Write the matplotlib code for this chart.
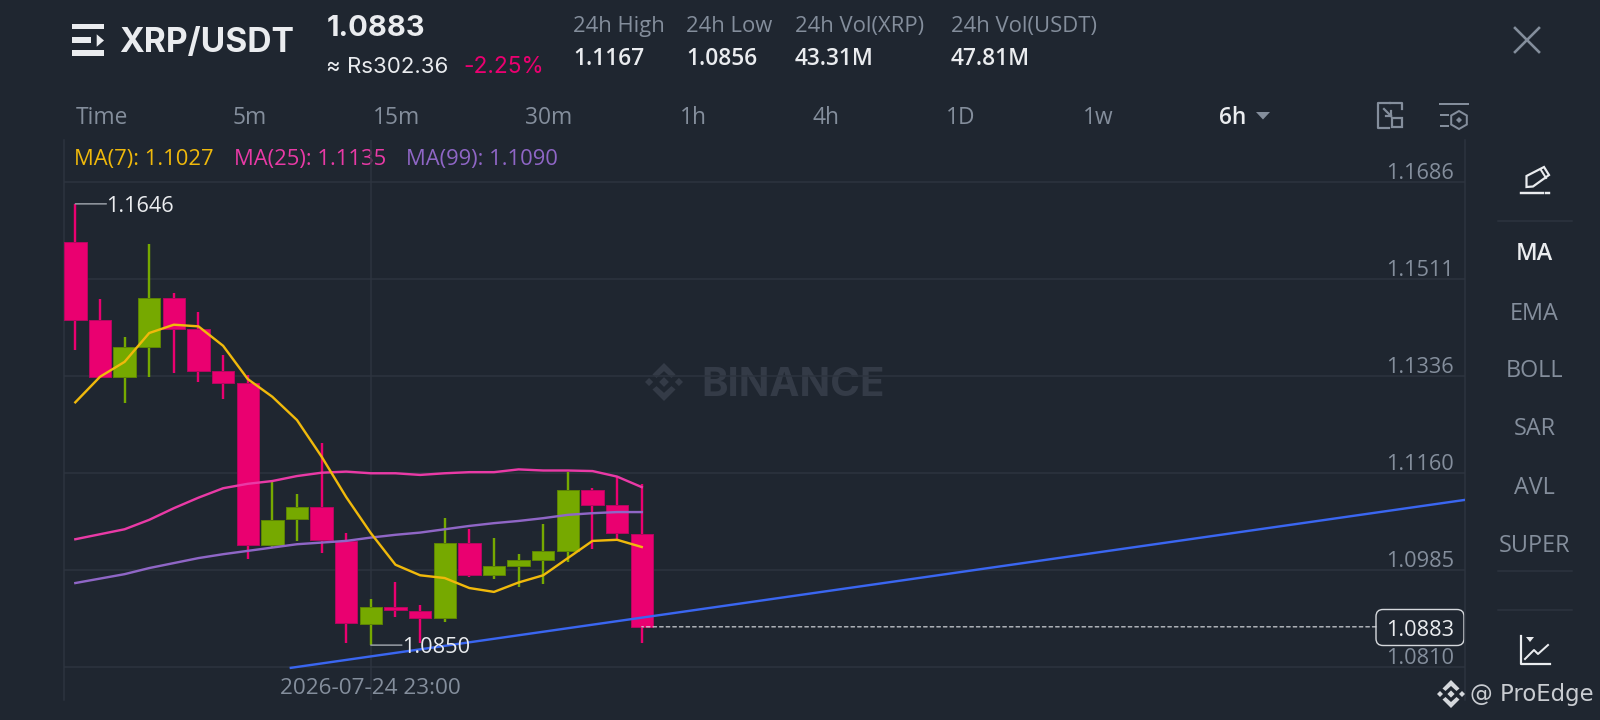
import matplotlib
matplotlib.use("Agg")
import matplotlib.pyplot as plt
from matplotlib.patches import Polygon, Rectangle, FancyBboxPatch, RegularPolygon
from matplotlib.transforms import blended_transform_factory

# ---------- data ----------
highs = [1.1646, 1.1475, 1.1405, 1.1574, 1.1486, 1.1451, 1.1373, 1.1337, 1.1144, 1.1123, 1.1214, 1.1052,
         1.0934, 1.0963, 1.0922, 1.1079, 1.1059, 1.1044, 1.1014, 1.1068, 1.1163, 1.1133, 1.1154, 1.1140]
opens = [1.1577, 1.1436, 1.1334, 1.1387, 1.1476, 1.1421, 1.1344, 1.1323, 1.1031, 1.1077, 1.1100, 1.1038,
         1.0889, 1.0918, 1.0911, 1.0899, 1.1035, 1.0976, 1.0993, 1.1003, 1.1020, 1.1130, 1.1102, 1.1050]
closes = [1.1436, 1.1334, 1.1387, 1.1476, 1.1420, 1.1344, 1.1323, 1.1031, 1.1076, 1.1100, 1.1039, 1.0890,
          1.0918, 1.0913, 1.0899, 1.1034, 1.0976, 1.0993, 1.1004, 1.1019, 1.1130, 1.1103, 1.1052, 1.0883]
lows = [1.1382, 1.1334, 1.1287, 1.1333, 1.1341, 1.1325, 1.1294, 1.1005, 1.1026, 1.1037, 1.1016, 1.0853,
        1.0850, 1.0901, 1.0854, 1.0891, 1.0972, 1.0970, 1.0954, 1.0960, 1.1000, 1.1024, 1.1041, 1.0854]
ma7 = [1.1288, 1.1334, 1.1361, 1.1413, 1.1428, 1.1425, 1.1390, 1.1330, 1.1298, 1.1256, 1.1190, 1.1117,
       1.1052, 1.0995, 1.0976, 1.0971, 1.0953, 1.0946, 1.0963, 1.0976, 1.1007, 1.1038, 1.1040, 1.1027]
ma25 = [1.1041, 1.1050, 1.1059, 1.1076, 1.1097, 1.1116, 1.1133, 1.1141, 1.1146, 1.1155, 1.1161, 1.1163,
        1.1160, 1.1160, 1.1157, 1.1160, 1.1162, 1.1162, 1.1167, 1.1165, 1.1165, 1.1164, 1.1154, 1.1135]
ma99 = [1.0962, 1.0970, 1.0978, 1.0989, 1.0998, 1.1007, 1.1014, 1.1020, 1.1026, 1.1032, 1.1035, 1.1038,
        1.1044, 1.1049, 1.1053, 1.1059, 1.1065, 1.1070, 1.1074, 1.1079, 1.1085, 1.1088, 1.1090, 1.1090]
candle_index = list(range(len(highs)))
trend_index = [8.75, 56.43]
trend_price = [1.0809, 1.1112]
price_levels = [1.1686, 1.1511, 1.1336, 1.1160, 1.0985, 1.0810]
last_price = 1.0883
high_mark = (0, 1.1646)
low_mark = (12, 1.0850)
time_tick_index = 12
time_tick_label = "2026-07-24 23:00"
tabs = ["Time", "5m", "15m", "30m", "1h", "4h", "1D", "1w"]
indicators = ["EMA", "BOLL", "SAR", "AVL", "SUPER"]
stat_names = ["24h High", "24h Low", "24h Vol(XRP)", "24h Vol(USDT)"]
stat_values = ["1.1167", "1.0856", "43.31M", "47.81M"]

# ---------- style ----------
BG = "#1f2630"; GRID = "#2d343f"; GRAY = "#848e9c"; WHITE = "#eaecef"
RED = "#ea0070"; REDE = "#b3075f"; GREEN = "#76a900"; GREENE = "#5c8205"
YEL = "#f0b90b"; PINK = "#e93aa6"; PURP = "#8f66c6"; BLUE = "#3a66f0"
NUM = "Open Sans"; HEAD = "Inter"
px = 0.72

fig = plt.figure(figsize=(16, 7.2), dpi=100, facecolor=BG)
ui = fig.add_axes([0, 0, 1, 1], zorder=1)
ui.set_xlim(0, 1600); ui.set_ylim(720, 0); ui.axis("off")

# main chart axes: 64..1465 px wide, 140..700 px high
L, R, T, B = 64.0, 1465.0, 140.0, 700.0
ax = fig.add_axes([L/1600, 1-B/720, (R-L)/1600, (B-T)/720], zorder=2)
ax.set_facecolor("none")
ax.set_xlim(-0.46, 56.43)
ax.set_ylim(1.07510, 1.17612)
ax.set_xticks([]); ax.set_yticks([])
for s in ("top", "bottom"):
    ax.spines[s].set_visible(False)
for s in ("left", "right"):
    ax.spines[s].set_color(GRID); ax.spines[s].set_linewidth(1.5*px)

rowT = blended_transform_factory(ax.transAxes, ax.transData)

# ---------- grid ----------
for lv in price_levels:
    ax.axhline(lv, color=GRID, lw=1.5*px, zorder=1)
    ax.annotate(f"{lv:.4f}", xy=(1, lv), xycoords=rowT, xytext=(-11*px, 8.5*px),
                textcoords="offset points", ha="right", va="center", color=GRAY,
                fontsize=15.7, family=NUM, zorder=6)
ax.axvline(time_tick_index, color=GRID, lw=1.5*px, zorder=1)
ax.annotate(time_tick_label, xy=(time_tick_index, 0), xycoords=ax.get_xaxis_transform(),
            xytext=(0, 11.5*px), textcoords="offset points", ha="center", va="center",
            color=GRAY, fontsize=16.2, family=NUM)

# ---------- watermark ----------
ui.text(793, 386, "BINANCE", color="#343b47", fontsize=29, fontweight="bold", family=HEAD,
        ha="center", va="center")

def binance_logo(a, cx, cy, r, color, zorder=3):
    s = r / 14.0
    a.add_patch(Polygon([(cx, cy-3.6*s), (cx+3.6*s, cy), (cx, cy+3.6*s), (cx-3.6*s, cy)], color=color, lw=0, zorder=zorder))
    for sx in (-1, 1):
        a.add_patch(Polygon([(cx+sx*11*s, cy-3*s), (cx+sx*14*s, cy), (cx+sx*11*s, cy+3*s), (cx+sx*8*s, cy)], color=color, lw=0, zorder=zorder))
    for sy in (-1, 1):
        a.add_patch(Polygon([(cx, cy+sy*14*s), (cx+8.5*s, cy+sy*5.5*s), (cx+5.5*s, cy+sy*3*s),
                             (cx, cy+sy*8*s), (cx-5.5*s, cy+sy*3*s), (cx-8.5*s, cy+sy*5.5*s)], color=color, lw=0, zorder=zorder))

binance_logo(ui, 664, 382, 19, "#343b47")

# ---------- candles ----------
for i, h, o, c, l in zip(candle_index, highs, opens, closes, lows):
    up = c > o
    col, edge = (GREEN, GREENE) if up else (RED, REDE)
    ax.vlines(i, l, h, color=col, lw=2.4*px, zorder=3)
    ax.bar(i, abs(c-o), bottom=min(o, c), width=0.91, color=col, edgecolor=edge, linewidth=1*px, zorder=4)

ax.plot(candle_index, ma99, color=PURP, lw=2.4*px, zorder=5)
ax.plot(candle_index, ma25, color=PINK, lw=2.4*px, zorder=5)
ax.plot(candle_index, ma7, color=YEL, lw=2.4*px, zorder=5)
ax.plot(trend_index, trend_price, color=BLUE, lw=2.4*px, zorder=5)

# last price line and box
ax.annotate("", xy=(candle_index[-1], last_price), xytext=(1-89/(R-L), last_price),
            textcoords=rowT, arrowprops=dict(arrowstyle="-", color="#d5d8dc", lw=1.2*px, ls=(0, (3, 2.5)),
                                             shrinkA=0, shrinkB=0), zorder=5)
ui.add_patch(FancyBboxPatch((1376+7, 609.5+7), 88-14, 36-14, boxstyle="round,pad=7", fc=BG, ec="#d5d8dc",
                            lw=1.4*px, zorder=8))
fig.text(1454/1600, 1-630/720, f"{last_price:.4f}", color=WHITE, fontsize=15.7, family=NUM, ha="right", va="center", zorder=10)

# high/low marks
for (idx, val) in (high_mark, low_mark):
    ax.annotate("", xy=(idx, val), xytext=(31*px, 0), textcoords="offset points",
                arrowprops=dict(arrowstyle="-", color="#9aa0a8", lw=1.5*px, shrinkA=0, shrinkB=0), zorder=7)
    ax.annotate(f"{val:.4f}", xy=(idx, val), xytext=(31*px, -2.5*px), textcoords="offset points",
                color=WHITE, fontsize=15.7, family=NUM, ha="left", va="center", zorder=7)

# ---------- header ----------
ui.add_patch(Rectangle((72, 24), 32, 4.7, color=WHITE, lw=0))
ui.add_patch(Rectangle((72, 36.7), 18.7, 6, color=WHITE, lw=0))
ui.add_patch(Polygon([(96.7, 34.3), (104, 40.5), (96.7, 46.7)], color=WHITE, lw=0))
ui.add_patch(Rectangle((72, 50), 32, 5.7, color=WHITE, lw=0))
ui.text(119, 42.5, "XRP/USDT", color=WHITE, fontsize=24.2, fontweight="bold", family=HEAD, ha="left", va="center")
ui.text(327, 28, "1.0883", color=WHITE, fontsize=21, fontweight="bold", family=HEAD, ha="left", va="center")
ui.text(326, 67, "≈ Rs302.36", color=WHITE, fontsize=16, family=HEAD, ha="left", va="center")
ui.text(463, 67, "-2.25%", color=RED, fontsize=16.3, family=HEAD, ha="left", va="center")
for x0, n, v in zip([573, 686.5, 795, 950.6], stat_names, stat_values):
    ui.text(x0, 26.5, n, color=GRAY, fontsize=15.8, family=NUM, ha="left", va="center")
    ui.text(x0, 59, v, color=WHITE, fontsize=16.4, fontweight="semibold", family=NUM, ha="left", va="center")
ui.plot([1515, 1539], [28, 52], color=GRAY, lw=2.6*px)
ui.plot([1539, 1515], [28, 52], color=GRAY, lw=2.6*px)

# ---------- tabs ----------
for x0, t in zip([102, 250, 397, 549, 693, 826, 961, 1098], tabs):
    ui.text(x0, 118, t, color=GRAY, fontsize=16.4, family=NUM, ha="center", va="center")
ui.text(1233, 118, "6h", color=WHITE, fontsize=16.4, fontweight="semibold", family=NUM, ha="center", va="center")
ui.add_patch(Polygon([(1256, 112), (1270, 112), (1263, 119.5)], color=GRAY, lw=0))

# icon: resize
ui.plot([1390, 1378, 1378, 1389], [103, 103, 127.5, 127.5], color=GRAY, lw=2.2*px)
ui.plot([1390, 1402, 1402], [103, 103, 109], color=GRAY, lw=2.2*px)
ui.add_patch(Rectangle((1392, 118), 10, 9, fill=False, ec=GRAY, lw=2.2*px))
ui.plot([1384, 1391], [109, 116], color=GRAY, lw=2.2*px)
ui.plot([1391, 1391], [111, 116], color=GRAY, lw=2.2*px)
ui.plot([1386, 1391], [116, 116], color=GRAY, lw=2.2*px)
# icon: settings
ui.plot([1440, 1468], [104, 104], color=GRAY, lw=2*px)
ui.plot([1441, 1448], [114.5, 114.5], color=GRAY, lw=2*px)
ui.plot([1441, 1448], [125.5, 125.5], color=GRAY, lw=2*px)
ui.add_patch(RegularPolygon((1459, 120), 6, radius=9, fill=False, ec=GRAY, lw=2*px))
ui.add_patch(RegularPolygon((1459, 120), 4, radius=3, color=GRAY, lw=0))

# ---------- legend ----------
for x0, n, col, vals in zip([74.5, 234.5, 406], ["MA(7)", "MA(25)", "MA(99)"], [YEL, PINK, PURP], [ma7, ma25, ma99]):
    ui.text(x0, 160, f"{n}: {vals[-1]:.4f}", color=col, fontsize=15.8, family=NUM, ha="left", va="center")

# ---------- sidebar ----------
ui.add_patch(Polygon([(1526.5, 176), (1544, 167), (1549, 175), (1533, 186.5), (1526.5, 187)], fill=False, ec=WHITE, lw=2.2*px))
ui.plot([1541, 1546], [170, 178], color=WHITE, lw=2*px)
ui.plot([1521, 1543], [193, 193], color=WHITE, lw=2.4*px)
ui.plot([1546, 1549], [193, 193], color=WHITE, lw=2.4*px)
for yy in (221, 571, 609.5):
    ui.plot([1498, 1572], [yy, yy], color=GRID, lw=1.5*px)
ui.text(1534.5, 254, "MA", color=WHITE, fontsize=16.8, fontweight="semibold", family=NUM, ha="center", va="center")
for yy, t in zip([314, 371, 429, 487.5, 545.5], indicators):
    ui.text(1534.5, yy, t, color=GRAY, fontsize=16.8, family=NUM, ha="center", va="center")
ui.plot([1521, 1521, 1550], [636, 664, 664], color=WHITE, lw=2.2*px)
ui.add_patch(Polygon([(1526, 637), (1534, 637), (1530, 642)], color=WHITE, lw=0))
ui.plot([1525, 1534, 1538, 1548], [659, 650, 654, 645], color=WHITE, lw=2*px)

# ---------- credit ----------
binance_logo(fig.add_axes([0, 0, 1, 1], zorder=9, frame_on=False, xticks=[], yticks=[], xlim=(0, 1600), ylim=(720, 0), facecolor="none"),
             1451, 694, 14, "#d5d8dc")
fig.text(1470/1600, 1-695/720, "@ ProEdge", color="#c9ccd1", fontsize=16.4, family="DejaVu Sans", ha="left", va="center", zorder=10)

fig.savefig("out.png", dpi=100, facecolor=BG)
